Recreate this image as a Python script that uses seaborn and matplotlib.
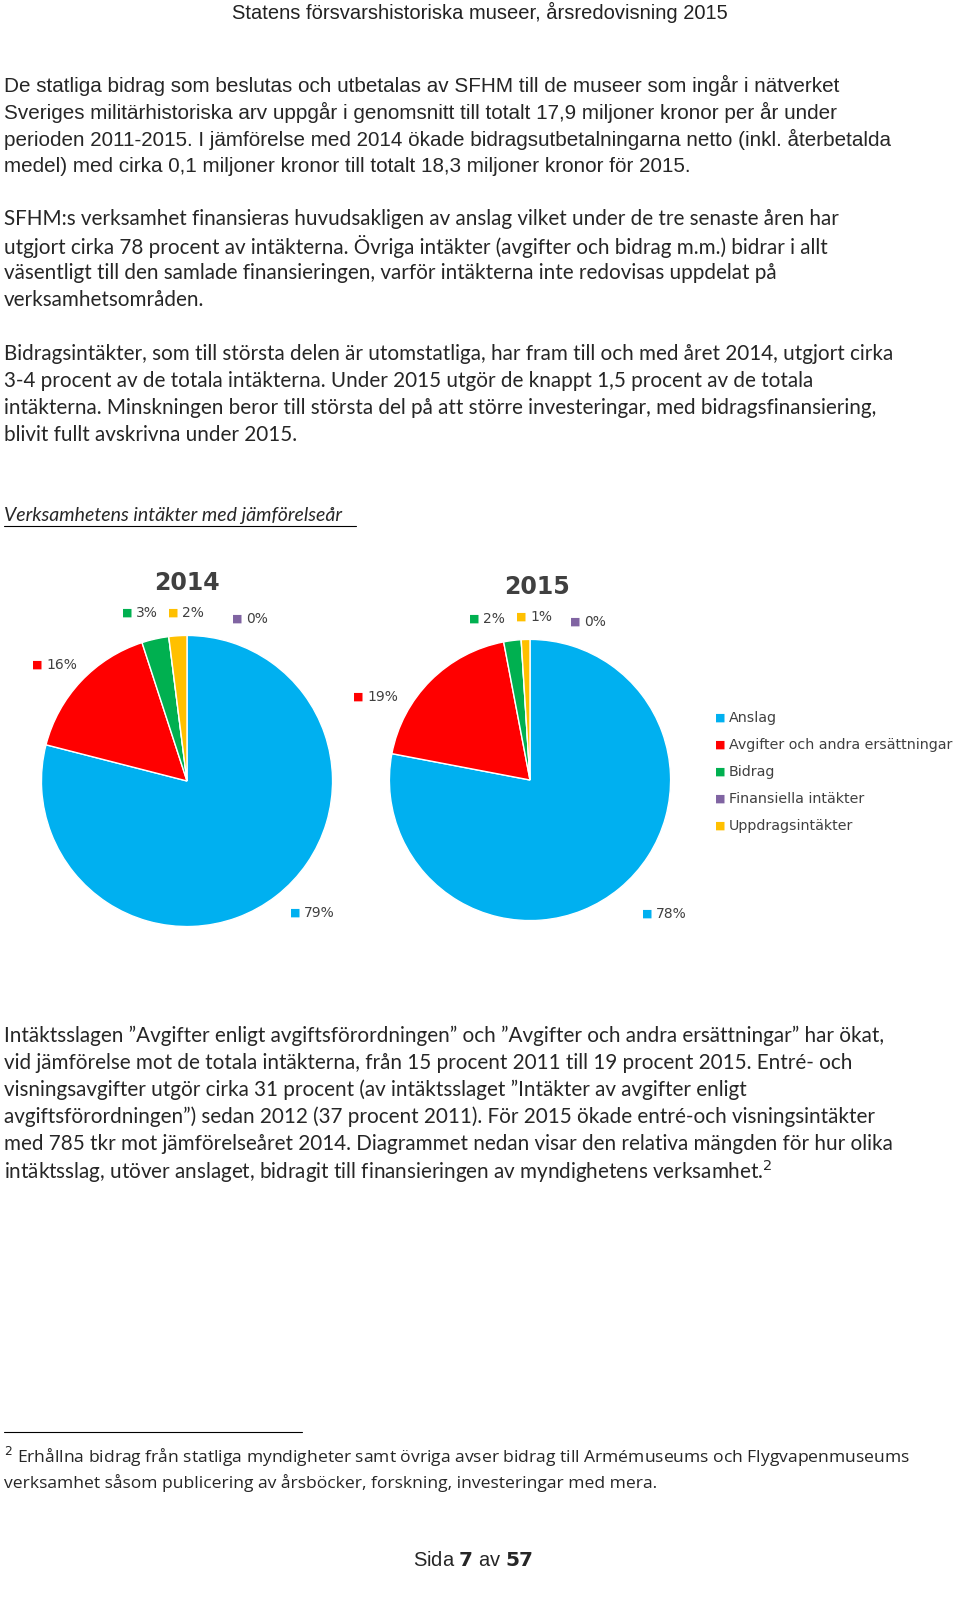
import matplotlib
matplotlib.use("Agg")
import matplotlib.pyplot as plt
import seaborn as sns

sns.set_style("white")

# data
categories = ["Anslag", "Avgifter och andra ersättningar", "Bidrag",
              "Finansiella intäkter", "Uppdragsintäkter"]
colors = ["#00b0f0", "#ff0000", "#00b050", "#8064a2", "#ffc000"]
share_2014 = [79, 16, 3, 0, 2]
share_2015 = [78, 19, 2, 0, 1]

W, H = 960, 1603
fig = plt.figure(figsize=(W / 100, H / 100), dpi=100)


def txt(x, y, s, **kw):
    fig.text(x / W, 1 - y / H, s, va="center", **kw)


txt(480, 12, "Statens försvarshistoriska museer, årsredovisning 2015",
    ha="center", fontsize=14.5, family="Liberation Sans", color="#222222")

p1 = ["De statliga bidrag som beslutas och utbetalas av SFHM till de museer som ingår i nätverket",
      "Sveriges militärhistoriska arv uppgår i genomsnitt till totalt 17,9 miljoner kronor per år under",
      "perioden 2011-2015. I jämförelse med 2014 ökade bidragsutbetalningarna netto (inkl. återbetalda",
      "medel) med cirka 0,1 miljoner kronor till totalt 18,3 miljoner kronor för 2015."]
for i, s in enumerate(p1):
    txt(4, 85 + 27 * i, s, fontsize=14.9, family="Liberation Sans")

p2 = ["SFHM:s verksamhet finansieras huvudsakligen av anslag vilket under de tre senaste åren har",
      "utgjort cirka 78 procent av intäkterna. Övriga intäkter (avgifter och bidrag m.m.) bidrar i allt",
      "väsentligt till den samlade finansieringen, varför intäkterna inte redovisas uppdelat på",
      "verksamhetsområden."]
for i, s in enumerate(p2):
    txt(4, 219 + 27 * i, s, fontsize=14.9, family="Lato")

p3 = ["Bidragsintäkter, som till största delen är utomstatliga, har fram till och med året 2014, utgjort cirka",
      "3-4 procent av de totala intäkterna. Under 2015 utgör de knappt 1,5 procent av de totala",
      "intäkterna. Minskningen beror till största del på att större investeringar, med bidragsfinansiering,",
      "blivit fullt avskrivna under 2015."]
for i, s in enumerate(p3):
    txt(4, 354 + 27 * i, s, fontsize=14.9, family="Lato")

txt(4, 515, "Verksamhetens intäkter med jämförelseår", fontsize=14,
    family="Lato", style="italic")
fig.add_artist(plt.Line2D([4 / W, 356 / W], [1 - 526 / H] * 2, color="black", lw=0.8))

# pies
ax1 = fig.add_axes([40 / W, 1 - 928 / H, 294 / W, 294 / H])
ax2 = fig.add_axes([388 / W, 1 - 922 / H, 284 / W, 284 / H])
for ax, vals in [(ax1, share_2014), (ax2, share_2015)]:
    ax.pie(vals, colors=colors, startangle=90, counterclock=False,
           wedgeprops=dict(linewidth=1, edgecolor="white"))
    ax.set_xlim(-1.01, 1.01)
    ax.set_ylim(-1.01, 1.01)
    ax.set_aspect("equal")

txt(187, 583, "2014", ha="center", fontsize=17, weight="bold", color="#404040")
txt(537, 587, "2015", ha="center", fontsize=17, weight="bold", color="#404040")


def plabel(x, y, s, c, fs=10):
    txt(x, y, "■", fontsize=8, color=c)
    txt(x + 14, y, s, fontsize=fs, color="#404040")


plabel(122, 613, "3%", colors[2]); plabel(168, 613, "2%", colors[4])
plabel(232, 619, "0%", colors[3]); plabel(32, 665, "16%", colors[1])
plabel(290, 913, "79%", colors[0])
plabel(469, 619, "2%", colors[2]); plabel(516, 617, "1%", colors[4])
plabel(570, 622, "0%", colors[3]); plabel(353, 697, "19%", colors[1])
plabel(642, 914, "78%", colors[0])

for i, (cat, c) in enumerate(zip(categories, colors)):
    plabel(715, 718 + 27 * i, cat, c, fs=10.3)

p4 = ["Intäktsslagen \u201dAvgifter enligt avgiftsförordningen\u201d och \u201dAvgifter och andra ersättningar\u201d har ökat,",
      "vid jämförelse mot de totala intäkterna, från 15 procent 2011 till 19 procent 2015. Entré- och",
      "visningsavgifter utgör cirka 31 procent (av intäktsslaget \u201dIntäkter av avgifter enligt",
      "avgiftsförordningen\u201d) sedan 2012 (37 procent 2011). För 2015 ökade entré-och visningsintäkter",
      "med 785 tkr mot jämförelseåret 2014. Diagrammet nedan visar den relativa mängden för hur olika",
      "intäktsslag, utöver anslaget, bidragit till finansieringen av myndighetens verksamhet.$^2$"]
for i, s in enumerate(p4):
    txt(4, 1036 + 27 * i, s, fontsize=14.9, family="Lato")

fig.add_artist(plt.Line2D([4 / W, 302 / W], [1 - 1432 / H] * 2, color="black", lw=0.8))
txt(4, 1457, "$^2$ Erhållna bidrag från statliga myndigheter samt övriga avser bidrag till Armémuseums och Flygvapenmuseums",
    fontsize=12.6, family="Open Sans")
txt(4, 1483, "verksamhet såsom publicering av årsböcker, forskning, investeringar med mera.",
    fontsize=12.6, family="Open Sans")

fig.text(473 / W, 1 - 1560 / H, "Sida $\\bf{7}$ av $\\bf{57}$", ha="center", va="center",
         fontsize=14.5, family="Liberation Sans")

fig.savefig("out.png", dpi=100)
